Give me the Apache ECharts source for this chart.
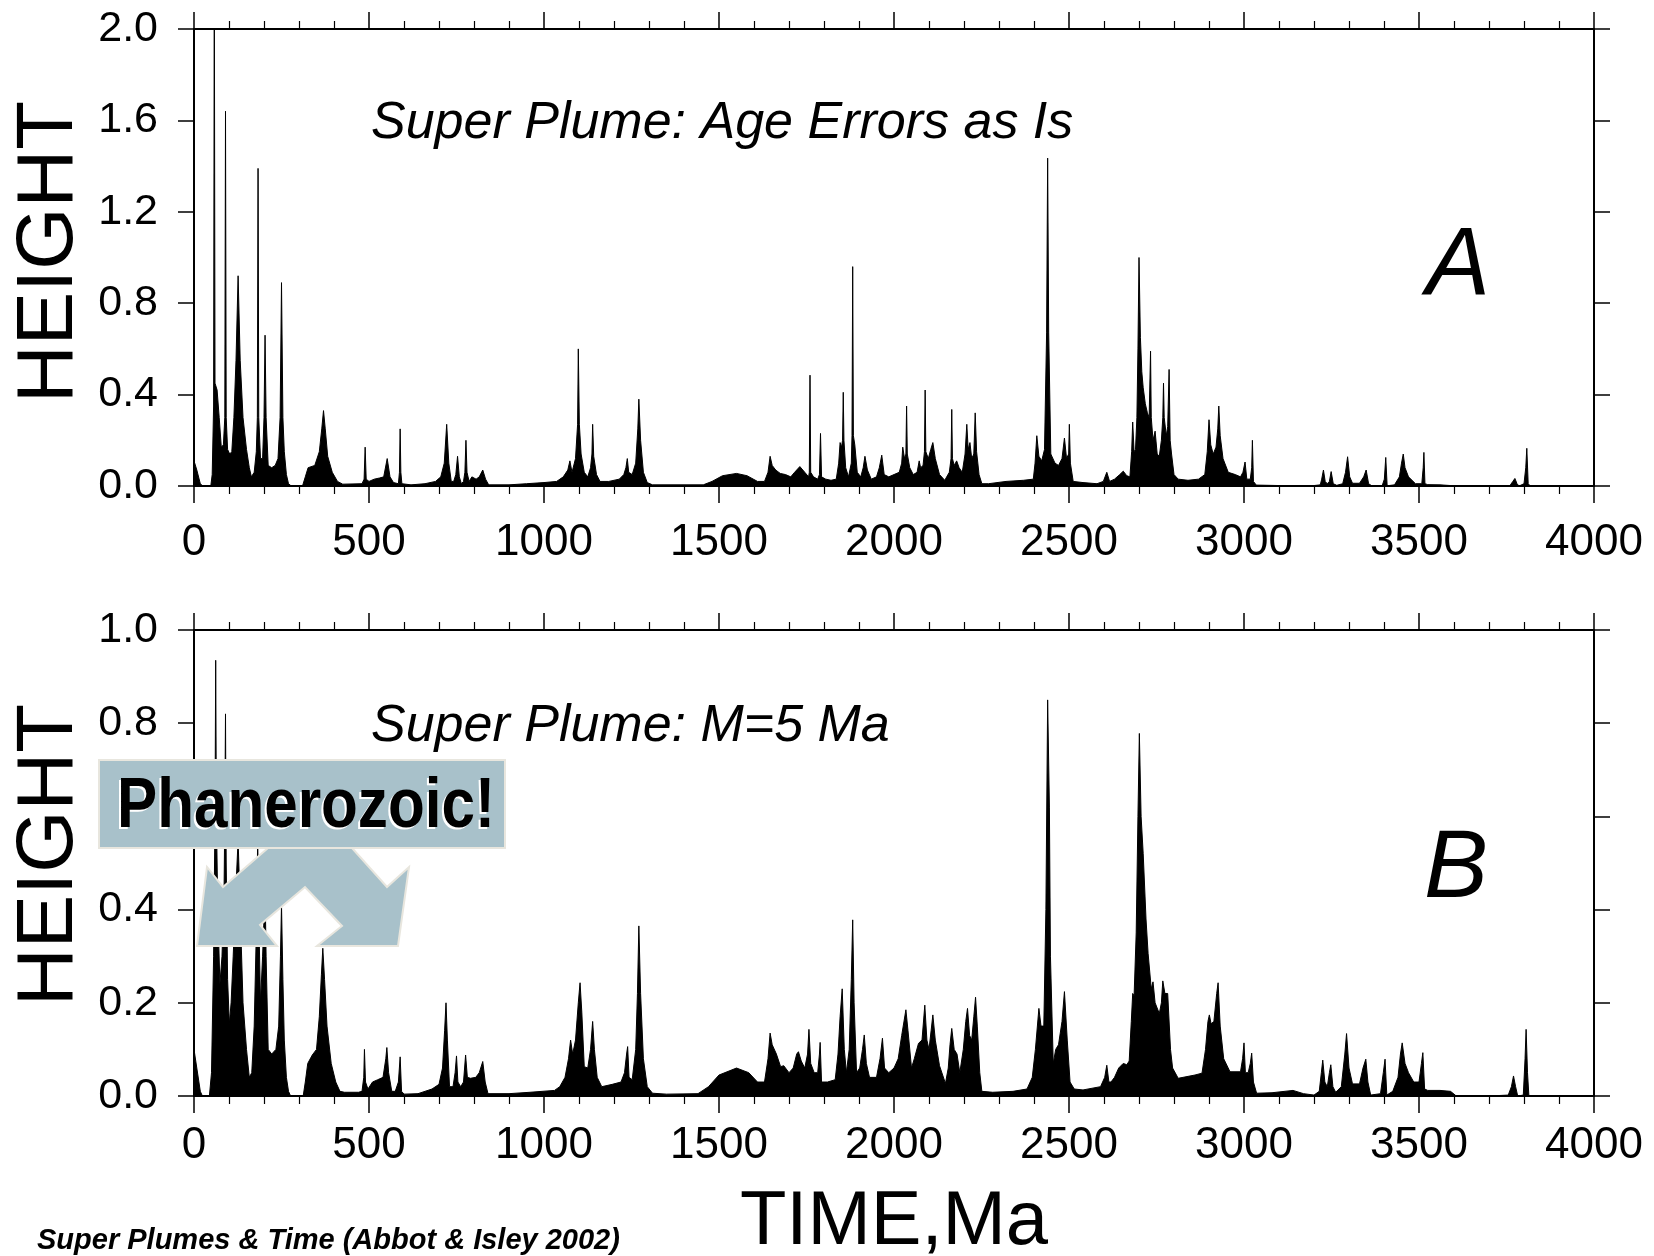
<!DOCTYPE html>
<html>
<head>
<meta charset="utf-8">
<script src="https://cdn.jsdelivr.net/npm/echarts@6/dist/echarts.min.js"></script>
<style>
html,body{margin:0;padding:0;background:#fff;}
#chart{width:1654px;height:1256px;}
</style>
</head>
<body>
<div id="chart"></div>
<script>
// ---- data: [time (Ma), height] ----
const xTickLabels = ['0','500','1000','1500','2000','2500','3000','3500','4000'];
const yTickLabelsA = ['0.0','0.4','0.8','1.2','1.6','2.0'];
const yTickLabelsB = ['0.0','0.2','0.4','0.6','0.8','1.0'];

const plumeA = [
[0,0.11],[8,0.07],[18,0.01],[25,0],[48,0],[52,0.05],[56,0.35],[58,2.3],[60,0.45],[66,0.42],[72,0.3],[78,0.17],
[84,0.18],[88,0.3],[90,1.64],[92,0.3],[96,0.16],[102,0.14],[108,0.15],[114,0.3],[120,0.55],[126,0.92],[132,0.55],
[140,0.3],[150,0.16],[158,0.08],[164,0.04],[172,0.06],[178,0.15],[181,0.3],[183,1.39],[185,0.3],[190,0.12],[196,0.12],
[200,0.3],[203,0.66],[206,0.3],[212,0.09],[222,0.08],[232,0.09],[240,0.12],[246,0.3],[250,0.89],[254,0.3],[258,0.15],
[264,0.05],[270,0.01],[278,0],[310,0],[318,0.04],[326,0.08],[345,0.09],[358,0.15],[365,0.25],[370,0.33],[375,0.25],
[382,0.13],[395,0.06],[410,0.02],[425,0.008],[480,0.01],[486,0.03],[489,0.17],[492,0.03],[500,0.02],[515,0.03],
[530,0.035],[542,0.04],[552,0.12],[560,0.04],[570,0.015],[584,0.01],[587,0.06],[589,0.25],[591,0.06],[594,0.01],
[620,0.005],[660,0.01],[690,0.02],[705,0.04],[715,0.1],[722,0.27],[728,0.1],[735,0.02],[742,0.02],[748,0.05],
[753,0.13],[758,0.04],[764,0.01],[770,0.02],[774,0.06],[777,0.2],[780,0.06],[786,0.02],[794,0.04],[806,0.03],
[815,0.04],[825,0.07],[833,0.03],[842,0.005],[900,0.005],[950,0.01],[1000,0.015],[1036,0.02],[1055,0.04],[1068,0.07],
[1074,0.11],[1080,0.06],[1090,0.12],[1096,0.27],[1098,0.6],[1101,0.27],[1106,0.14],[1115,0.06],[1125,0.04],[1133,0.08],
[1137,0.14],[1139,0.27],[1142,0.13],[1150,0.05],[1160,0.02],[1185,0.02],[1215,0.03],[1228,0.05],[1234,0.08],[1238,0.12],
[1242,0.06],[1252,0.05],[1262,0.1],[1268,0.25],[1271,0.38],[1276,0.2],[1284,0.06],[1295,0.015],[1310,0.005],[1400,0.005],
[1455,0.005],[1480,0.02],[1510,0.045],[1550,0.055],[1580,0.045],[1610,0.02],[1630,0.02],[1640,0.06],[1646,0.13],
[1652,0.09],[1662,0.07],[1675,0.055],[1690,0.05],[1705,0.04],[1716,0.06],[1731,0.085],[1745,0.06],[1756,0.04],
[1758,0.06],[1760,0.485],[1762,0.06],[1770,0.04],[1782,0.03],[1787,0.05],[1790,0.23],[1793,0.04],[1805,0.03],
[1820,0.025],[1835,0.03],[1842,0.1],[1846,0.19],[1850,0.17],[1853,0.2],[1855,0.41],[1857,0.2],[1862,0.08],[1870,0.04],
[1878,0.1],[1880,0.22],[1882,0.96],[1884,0.22],[1888,0.18],[1895,0.06],[1905,0.04],[1912,0.08],[1917,0.13],[1924,0.07],
[1935,0.03],[1950,0.04],[1958,0.08],[1965,0.135],[1972,0.05],[1985,0.04],[2000,0.05],[2015,0.06],[2022,0.1],[2025,0.17],
[2030,0.12],[2034,0.14],[2036,0.35],[2038,0.14],[2045,0.08],[2055,0.05],[2066,0.06],[2072,0.11],[2076,0.08],[2083,0.09],
[2087,0.15],[2089,0.42],[2091,0.15],[2098,0.12],[2105,0.16],[2111,0.19],[2118,0.12],[2130,0.05],[2145,0.025],[2158,0.06],
[2163,0.12],[2165,0.335],[2167,0.12],[2172,0.09],[2179,0.11],[2186,0.08],[2195,0.06],[2203,0.14],[2208,0.27],[2212,0.16],
[2217,0.19],[2222,0.12],[2228,0.14],[2232,0.32],[2236,0.15],[2243,0.05],[2251,0.01],[2270,0.01],[2320,0.02],[2370,0.025],
[2398,0.03],[2403,0.1],[2408,0.22],[2414,0.13],[2422,0.11],[2430,0.16],[2436,0.67],[2439,1.435],[2442,0.67],[2448,0.14],
[2460,0.1],[2470,0.09],[2480,0.12],[2487,0.21],[2493,0.12],[2499,0.14],[2501,0.27],[2504,0.1],[2512,0.02],[2540,0.015],
[2580,0.01],[2598,0.02],[2608,0.06],[2616,0.02],[2630,0.03],[2645,0.05],[2655,0.065],[2665,0.045],[2674,0.04],[2679,0.15],
[2682,0.28],[2686,0.15],[2690,0.16],[2694,0.3],[2697,0.6],[2700,1.0],[2704,0.65],[2708,0.5],[2712,0.43],[2718,0.36],
[2724,0.32],[2729,0.3],[2731,0.3],[2733,0.59],[2735,0.3],[2740,0.2],[2746,0.24],[2752,0.14],[2758,0.13],[2764,0.2],
[2768,0.3],[2770,0.45],[2772,0.3],[2778,0.22],[2782,0.26],[2786,0.51],[2789,0.2],[2793,0.14],[2800,0.05],[2812,0.03],
[2840,0.025],[2870,0.03],[2888,0.05],[2895,0.15],[2900,0.29],[2905,0.18],[2912,0.14],[2920,0.17],[2925,0.25],[2928,0.35],
[2932,0.22],[2940,0.12],[2955,0.06],[2975,0.05],[2990,0.04],[2997,0.06],[3003,0.105],[3008,0.03],[3018,0.03],[3022,0.08],
[3024,0.2],[3027,0.02],[3035,0.004],[3100,0.002],[3200,0.002],[3218,0.005],[3222,0.03],[3227,0.07],[3232,0.02],[3238,0.01],
[3244,0.02],[3249,0.063],[3255,0.01],[3265,0.003],[3282,0.01],[3290,0.06],[3296,0.128],[3302,0.04],[3310,0.012],[3330,0.012],
[3342,0.04],[3349,0.07],[3356,0.01],[3365,0.001],[3395,0.002],[3401,0.03],[3405,0.125],[3409,0.001],[3430,0.005],[3444,0.04],
[3450,0.1],[3455,0.14],[3460,0.08],[3470,0.04],[3490,0.01],[3508,0.01],[3512,0.08],[3514,0.147],[3517,0.01],[3525,0.006],
[3560,0.005],[3600,0.001],[3700,0],[3760,0.002],[3768,0.02],[3774,0.033],[3780,0.01],[3786,0],[3800,0.01],[3805,0.08],
[3808,0.165],[3812,0.01],[3818,0],[4000,0]
];

const plumeB = [
[0,0.1],[8,0.06],[18,0.01],[24,0],[44,0],[50,0.05],[56,0.3],[60,0.6],[62,0.935],[64,0.6],[68,0.4],[74,0.24],[80,0.3],
[86,0.45],[88,0.6],[90,0.82],[92,0.5],[96,0.25],[101,0.155],[106,0.2],[112,0.3],[120,0.45],[126,0.55],[132,0.4],[140,0.2],
[150,0.1],[158,0.04],[165,0.05],[172,0.15],[178,0.35],[182,0.55],[186,0.35],[190,0.2],[196,0.3],[200,0.38],[203,0.45],
[206,0.3],[212,0.1],[222,0.09],[234,0.1],[242,0.15],[247,0.3],[250,0.41],[254,0.25],[258,0.12],[264,0.04],[270,0.01],
[276,0],[312,0],[318,0.03],[325,0.07],[338,0.088],[350,0.1],[358,0.17],[364,0.26],[368,0.317],[373,0.25],[380,0.15],
[392,0.07],[405,0.03],[417,0.01],[430,0.008],[470,0.008],[480,0.01],[485,0.04],[487,0.1],[490,0.03],[497,0.015],
[510,0.03],[525,0.035],[540,0.04],[548,0.08],[551,0.104],[556,0.05],[565,0.01],[575,0.01],[584,0.03],[589,0.084],
[593,0.01],[600,0.004],[640,0.005],[680,0.015],[700,0.025],[710,0.06],[716,0.14],[720,0.2],[724,0.12],[730,0.02],
[740,0.02],[746,0.05],[750,0.086],[754,0.03],[762,0.02],[770,0.03],[776,0.088],[781,0.04],[790,0.038],[805,0.04],
[815,0.05],[825,0.074],[832,0.03],[840,0.005],[900,0.005],[960,0.008],[1030,0.012],[1045,0.02],[1060,0.04],[1070,0.08],
[1076,0.12],[1082,0.09],[1090,0.12],[1098,0.2],[1103,0.243],[1108,0.18],[1115,0.063],[1125,0.06],[1133,0.1],[1139,0.16],
[1144,0.1],[1152,0.04],[1165,0.02],[1195,0.025],[1220,0.03],[1230,0.05],[1236,0.09],[1239,0.106],[1243,0.04],[1252,0.035],
[1262,0.1],[1267,0.22],[1271,0.365],[1276,0.22],[1284,0.08],[1295,0.02],[1310,0.006],[1350,0.004],[1440,0.005],[1470,0.02],
[1500,0.045],[1550,0.06],[1585,0.05],[1610,0.03],[1630,0.03],[1640,0.08],[1646,0.135],[1652,0.11],[1664,0.09],[1676,0.063],
[1685,0.065],[1700,0.05],[1712,0.06],[1722,0.09],[1727,0.095],[1735,0.075],[1745,0.06],[1753,0.09],[1757,0.143],[1762,0.07],
[1772,0.05],[1782,0.05],[1787,0.09],[1789,0.115],[1793,0.03],[1810,0.03],[1832,0.035],[1840,0.09],[1846,0.17],[1852,0.23],
[1858,0.1],[1864,0.05],[1872,0.1],[1878,0.25],[1882,0.378],[1886,0.2],[1893,0.05],[1902,0.06],[1910,0.1],[1915,0.131],
[1921,0.07],[1930,0.04],[1950,0.04],[1960,0.08],[1967,0.124],[1973,0.06],[1985,0.05],[2000,0.06],[2012,0.08],[2022,0.13],
[2034,0.185],[2040,0.14],[2050,0.06],[2058,0.08],[2070,0.113],[2080,0.12],[2088,0.195],[2094,0.12],[2100,0.1],[2106,0.14],
[2111,0.174],[2118,0.12],[2130,0.065],[2147,0.027],[2155,0.06],[2160,0.11],[2165,0.145],[2172,0.1],[2180,0.09],[2188,0.05],
[2198,0.1],[2205,0.16],[2210,0.188],[2216,0.13],[2222,0.12],[2228,0.17],[2233,0.212],[2238,0.15],[2245,0.05],[2251,0.01],
[2282,0.008],[2340,0.01],[2380,0.015],[2395,0.04],[2404,0.1],[2414,0.188],[2420,0.15],[2428,0.15],[2434,0.4],[2439,0.85],
[2444,0.62],[2447,0.3],[2455,0.07],[2462,0.1],[2470,0.11],[2480,0.16],[2487,0.224],[2495,0.12],[2503,0.03],[2515,0.015],
[2540,0.013],[2590,0.02],[2602,0.04],[2608,0.066],[2614,0.03],[2620,0.03],[2630,0.04],[2642,0.06],[2655,0.07],[2665,0.067],
[2672,0.075],[2678,0.16],[2682,0.22],[2686,0.215],[2692,0.35],[2697,0.6],[2701,0.778],[2706,0.6],[2712,0.52],[2720,0.38],
[2726,0.306],[2735,0.23],[2740,0.245],[2746,0.2],[2758,0.177],[2764,0.2],[2768,0.247],[2774,0.22],[2782,0.22],[2790,0.1],
[2796,0.06],[2812,0.038],[2860,0.045],[2880,0.049],[2890,0.1],[2897,0.16],[2901,0.174],[2906,0.155],[2914,0.16],[2922,0.22],
[2926,0.243],[2932,0.15],[2942,0.08],[2960,0.052],[2990,0.052],[2996,0.08],[3000,0.114],[3004,0.05],[3012,0.05],[3018,0.07],
[3022,0.092],[3027,0.03],[3036,0.006],[3080,0.007],[3140,0.012],[3170,0.005],[3200,0.002],[3215,0.01],[3221,0.05],[3225,0.077],
[3231,0.03],[3238,0.02],[3244,0.05],[3248,0.067],[3254,0.02],[3262,0.008],[3278,0.02],[3288,0.09],[3293,0.134],[3300,0.06],
[3310,0.026],[3330,0.026],[3340,0.06],[3348,0.079],[3354,0.03],[3362,0.002],[3390,0.005],[3398,0.05],[3403,0.079],[3408,0.002],
[3425,0.01],[3440,0.04],[3447,0.09],[3452,0.114],[3460,0.07],[3470,0.05],[3485,0.03],[3500,0.03],[3507,0.07],[3511,0.093],
[3516,0.015],[3525,0.012],[3560,0.012],[3590,0.01],[3605,0.001],[3700,0],[3755,0.002],[3764,0.02],[3770,0.043],[3776,0.02],
[3782,0],[3798,0.002],[3803,0.08],[3806,0.143],[3810,0.05],[3814,0],[4000,0]
];

const FONT = '"Liberation Sans", Arial, Helvetica, sans-serif';
const chart = echarts.init(document.getElementById('chart'), null, {renderer: 'canvas'});

function xAxisDef(grid, pos, showLabels, margin) {
  return {
    type: 'value', gridIndex: grid, position: pos, min: 0, max: 4000, interval: 500,
    axisLine: {show: true, onZero: false, lineStyle: {color: '#000', width: 2}},
    axisTick: {show: true, inside: false, length: 17, lineStyle: {color: '#000', width: 1.5}},
    minorTick: {show: true, splitNumber: 5, length: 8, lineStyle: {color: '#000', width: 1.2}},
    splitLine: {show: false}, minorSplitLine: {show: false},
    axisLabel: {show: showLabels, margin: margin, fontSize: 44, color: '#000', fontFamily: FONT,
      formatter: v => xTickLabels[Math.round(v / 500)]}
  };
}
function yAxisDef(grid, pos, max, interval, labels, showLabels) {
  return {
    type: 'value', gridIndex: grid, position: pos, min: 0, max: max, interval: interval,
    axisLine: {show: true, onZero: false, lineStyle: {color: '#000', width: 2}},
    axisTick: {show: true, inside: false, length: 16, lineStyle: {color: '#000', width: 1.5}},
    splitLine: {show: false},
    axisLabel: {show: showLabels, margin: 36, fontSize: 43, color: '#000', fontFamily: FONT,
      formatter: v => labels[Math.round(v / interval)]}
  };
}

const option = {
  backgroundColor: '#fff',
  animation: false,
  grid: [
    {left: 194, top: 29, width: 1400, height: 457},
    {left: 194, top: 630, width: 1400, height: 466}
  ],
  xAxis: [
    xAxisDef(0, 'bottom', true, 35), xAxisDef(0, 'top', false, 30),
    xAxisDef(1, 'bottom', true, 28), xAxisDef(1, 'top', false, 30)
  ],
  yAxis: [
    yAxisDef(0, 'left', 2, 0.4, yTickLabelsA, true), yAxisDef(0, 'right', 2, 0.4, yTickLabelsA, false),
    yAxisDef(1, 'left', 1, 0.2, yTickLabelsB, true), yAxisDef(1, 'right', 1, 0.2, yTickLabelsB, false)
  ],
  series: [
    {type: 'line', xAxisIndex: 0, yAxisIndex: 0, data: plumeA, symbol: 'none', clip: true,
     lineStyle: {color: '#000', width: 1}, areaStyle: {color: '#000', opacity: 1}},
    {type: 'line', xAxisIndex: 2, yAxisIndex: 2, data: plumeB, symbol: 'none', clip: true,
     lineStyle: {color: '#000', width: 1}, areaStyle: {color: '#000', opacity: 1}}
  ],
  graphic: [
    {type: 'text', x: 50, y: 252, rotation: Math.PI / 2,
     style: {text: 'HEIGHT', fontSize: 80, fontFamily: FONT, fill: '#000', align: 'center', verticalAlign: 'middle'}},
    {type: 'text', x: 50, y: 855, rotation: Math.PI / 2,
     style: {text: 'HEIGHT', fontSize: 80, fontFamily: FONT, fill: '#000', align: 'center', verticalAlign: 'middle'}},
    {type: 'text', x: 371, y: 124,
     style: {text: 'Super Plume: Age Errors as Is', fontSize: 52, fontStyle: 'italic', fontFamily: FONT, fill: '#000', align: 'left', verticalAlign: 'middle'}},
    {type: 'text', x: 371, y: 727,
     style: {text: 'Super Plume: M=5 Ma', fontSize: 52, fontStyle: 'italic', fontFamily: FONT, fill: '#000', align: 'left', verticalAlign: 'middle'}},
    {type: 'text', x: 1426, y: 267,
     style: {text: 'A', fontSize: 96, fontStyle: 'italic', fontFamily: FONT, fill: '#000', align: 'left', verticalAlign: 'middle'}},
    {type: 'text', x: 1424, y: 870,
     style: {text: 'B', fontSize: 96, fontStyle: 'italic', fontFamily: FONT, fill: '#000', align: 'left', verticalAlign: 'middle'}},
    {type: 'text', x: 894, y: 1223,
     style: {text: 'TIME,Ma', fontSize: 76, fontFamily: FONT, fill: '#000', align: 'center', verticalAlign: 'middle'}},
    {type: 'text', x: 37, y: 1241,
     style: {text: 'Super Plumes & Time (Abbot & Isley 2002)', fontSize: 29, fontWeight: 'bold', fontStyle: 'italic', fontFamily: FONT, fill: '#000', align: 'left', verticalAlign: 'middle'}},
    // annotation overlay
    {type: 'rect', z: 100, shape: {x: 99, y: 760, width: 406, height: 88},
     style: {fill: '#A8C1CA', stroke: '#E8E6DE', lineWidth: 2}},
    {type: 'polygon', z: 100,
     shape: {points: [[268,848],[352,848],[387,887],[409,867],[398,946],[317,946],[342,926],[305,887],[260,925],[277,946],[197,946],[207,867],[223,887]]},
     style: {fill: '#A8C1CA', stroke: '#E8E6DE', lineWidth: 2}},
    {type: 'text', z: 101, x: 115, y: 810, scaleX: 0.86,
     style: {text: 'Phanerozoic!', fontSize: 70, fontWeight: 'bold', fontFamily: FONT, fill: '#fff', align: 'left', verticalAlign: 'middle'}},
    {type: 'text', z: 102, x: 117, y: 808, scaleX: 0.86,
     style: {text: 'Phanerozoic!', fontSize: 70, fontWeight: 'bold', fontFamily: FONT, fill: '#000', align: 'left', verticalAlign: 'middle'}}
  ]
};
chart.setOption(option);
</script>
</body>
</html>
